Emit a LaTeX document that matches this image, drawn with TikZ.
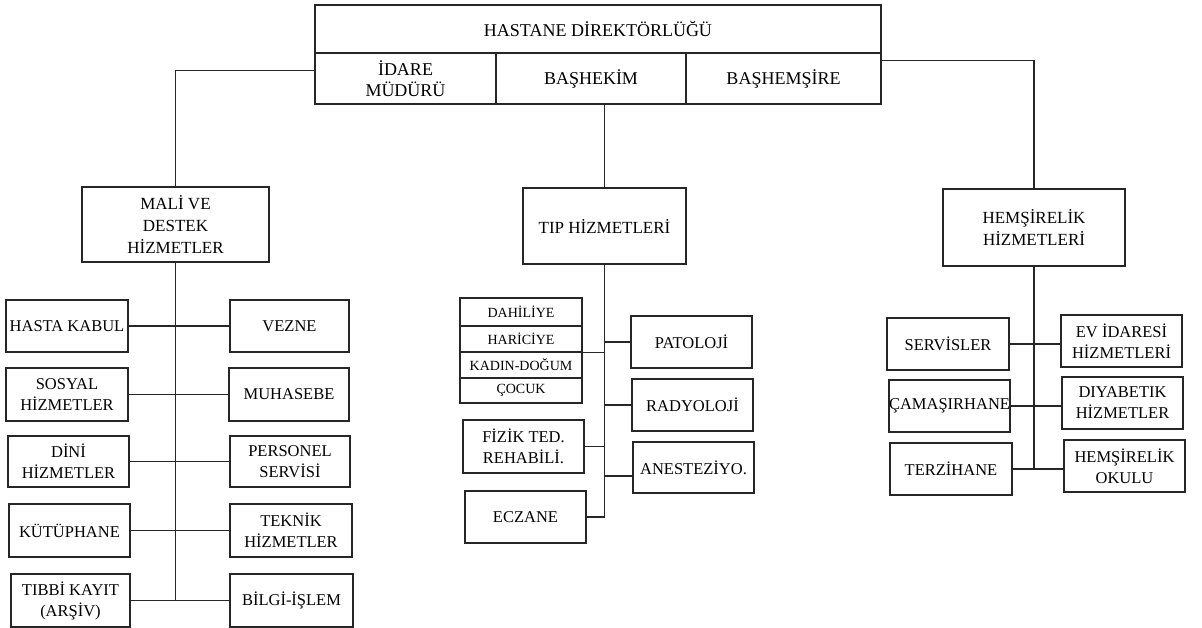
\documentclass[tikz,border=0pt]{standalone}
\usepackage{fontspec}
\setmainfont{Liberation Serif}
\usetikzlibrary{calc}
\tikzset{
  box/.style={draw=black!85, line width=1.4pt, inner sep=0pt, align=center,
    font=\fontsize{16.5}{21}\selectfont},
  topbox/.style={box, font=\fontsize{18}{21}\selectfont},
  midbox/.style={box, font=\fontsize{17}{22}\selectfont},
  cell/.style={box, font=\fontsize{14}{16}\selectfont},
  conn/.style={draw=black!85, line width=1.4pt},
}
\begin{document}
\begin{tikzpicture}[x=1pt,y=-1pt]
\useasboundingbox (0,0) rectangle (1202,628);
% top block
\node[topbox, minimum width=566pt, minimum height=48pt] (dir) at (598,29) {HASTANE DİREKTÖRLÜĞÜ};
\node[topbox, minimum width=181pt, minimum height=51pt] (idare) at (405.5,78.5) {İDARE\\MÜDÜRÜ};
\node[topbox, minimum width=190pt, minimum height=51pt] (bashekim) at (591,78.5) {BAŞHEKİM};
\node[topbox, minimum width=195pt, minimum height=51pt] (bashemsire) at (783.5,78.5) {BAŞHEMŞİRE};
% second level
\node[midbox, minimum width=187pt, minimum height=75pt] (mali) at (175.5,224.5) {MALİ VE\\DESTEK\\HİZMETLER};
\node[midbox, minimum width=163pt, minimum height=76pt] (tip) at (604.5,226) {TIP HİZMETLERİ};
\node[midbox, minimum width=182pt, minimum height=77pt] (hemsire) at (1034,227.5) {HEMŞİRELİK\\HİZMETLERİ};
% left group
\node[box, minimum width=122pt, minimum height=52pt] (hk) at (67,326) {HASTA KABUL};
\node[box, minimum width=119pt, minimum height=52pt] (vezne) at (289.5,326) {VEZNE};
\node[box, minimum width=122pt, minimum height=53pt] (sosyal) at (67,394.5) {SOSYAL\\HİZMETLER};
\node[box, minimum width=120pt, minimum height=53pt] (muhasebe) at (289,394.5) {MUHASEBE};
\node[box, minimum width=121pt, minimum height=51pt] (dini) at (68.5,461.5) {DİNİ\\HİZMETLER};
\node[box, minimum width=120pt, minimum height=51pt] (personel) at (290,461.5) {PERSONEL\\SERVİSİ};
\node[box, minimum width=121pt, minimum height=53pt] (kutup) at (69.5,530.5) {KÜTÜPHANE};
\node[box, minimum width=122pt, minimum height=53pt] (teknik) at (291,530.5) {TEKNİK\\HİZMETLER};
\node[box, minimum width=119pt, minimum height=53pt] (tibbi) at (70.5,600.5) {TIBBİ KAYIT\\(ARŞİV)};
\node[box, minimum width=123pt, minimum height=53pt] (bilgi) at (291.5,600.5) {BİLGİ-İŞLEM};
% middle group
\node[cell, minimum width=122pt, minimum height=28pt] (dah) at (521,312) {DAHİLİYE};
\node[cell, minimum width=122pt, minimum height=26pt] (har) at (521,339) {HARİCİYE};
\node[cell, minimum width=122pt, minimum height=26pt] (kad) at (521,365) {KADIN-DOĞUM};
\node[cell, minimum width=122pt, minimum height=25pt] (coc) at (521,390.5) {ÇOCUK};
\node[box, minimum width=121pt, minimum height=52pt] (patoloji) at (691.5,342) {PATOLOJİ};
\node[box, minimum width=121pt, minimum height=52pt] (radyoloji) at (692.5,405) {RADYOLOJİ};
\node[box, minimum width=121pt, minimum height=51pt] (anest) at (693.5,467.5) {ANESTEZİYO.};
\node[box, minimum width=121pt, minimum height=53pt] (fizik) at (523.5,446.5) {FİZİK TED.\\REHABİLİ.};
\node[box, minimum width=121pt, minimum height=52pt] (eczane) at (525.5,517) {ECZANE};
% right group
\node[box, minimum width=122pt, minimum height=52pt] (servis) at (948,344) {SERVİSLER};
\node[box, minimum width=121pt, minimum height=52pt] (evidaresi) at (1121.5,341) {EV İDARESİ\\HİZMETLERİ};
\node[box, minimum width=121pt, minimum height=52pt] (camasir) at (949.5,406) {ÇAMAŞIRHANE};
\node[box, minimum width=121pt, minimum height=52pt] (diyabet) at (1122.5,403) {DIYABETIK\\HİZMETLER};
\node[box, minimum width=122pt, minimum height=52pt] (terzi) at (951,469) {TERZİHANE};
\node[box, minimum width=121pt, minimum height=52pt] (okulu) at (1124.5,466) {HEMŞİRELİK\\OKULU};
% top connectors
\coordinate (iw) at ($(idare.north west)!0.35!(idare.south west)$);
\coordinate (be) at ($(bashemsire.north east)!0.16!(bashemsire.south east)$);
\draw[conn] (iw) -| (mali.north);
\draw[conn] (bashekim.south -| tip.north) -- (tip.north);
\draw[conn] (be) -| (hemsire.north);
% left connectors
\draw[conn] (mali.south) -- (mali.south |- tibbi.east);
\draw[conn] (hk.east) -- (hk.east -| vezne.west);
\draw[conn] (sosyal.east) -- (sosyal.east -| muhasebe.west);
\draw[conn] (dini.east) -- (dini.east -| personel.west);
\draw[conn] (kutup.east) -- (kutup.east -| teknik.west);
\draw[conn] (tibbi.east) -- (tibbi.east -| bilgi.west);
% middle connectors
\coordinate (aw) at ($(anest.north west)!0.66!(anest.south west)$);
\draw[conn] (tip.south) -- (tip.south |- eczane.east) -- (eczane.east);
\draw[conn] (har.south east) -- (har.south east -| tip.south);
\draw[conn] (tip.south |- patoloji.west) -- (patoloji.west);
\draw[conn] (tip.south |- radyoloji.west) -- (radyoloji.west);
\draw[conn] (tip.south |- aw) -- (aw);
\draw[conn] (fizik.east) -- (fizik.east -| tip.south);
% right connectors
\draw[conn] (hemsire.south) -- (hemsire.south |- terzi.east);
\draw[conn] (servis.east) -- (servis.east -| evidaresi.west);
\draw[conn] (camasir.east) -- (camasir.east -| diyabet.west);
\draw[conn] (terzi.east) -- (terzi.east -| okulu.west);
\end{tikzpicture}
\end{document}
